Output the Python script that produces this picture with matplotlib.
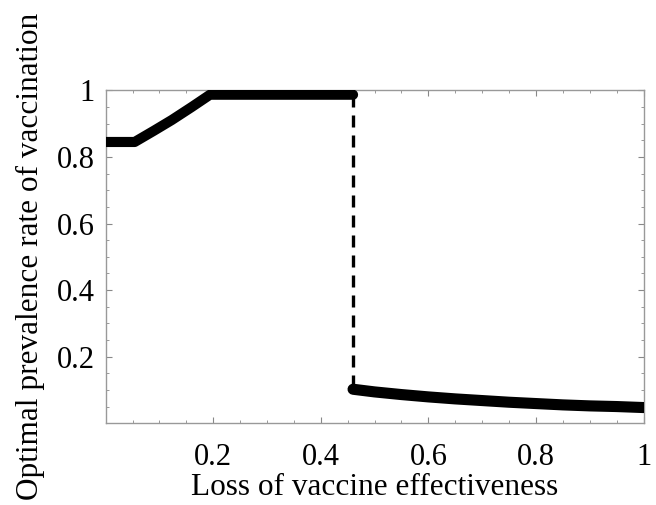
import numpy as np
import matplotlib
matplotlib.use("Agg")
import matplotlib.pyplot as plt
from matplotlib.ticker import MultipleLocator, FixedLocator

# upper branch (solid, before the jump)
x_upper = [0.0, 0.054, 0.09, 0.123, 0.16, 0.194, 0.46]
y_upper = [0.845, 0.845, 0.879, 0.911, 0.950, 0.987, 0.987]

# jump (dashed)
x_jump = [0.46, 0.46]
y_jump = [0.987, 0.102]

# lower branch (solid, after the jump)
x_lower = [0.46, 0.5, 0.55, 0.6, 0.65, 0.7, 0.75, 0.8, 0.85, 0.9, 0.95, 1.0]
y_lower = [0.102, 0.094, 0.086, 0.079, 0.073, 0.068, 0.063, 0.059, 0.055, 0.052, 0.050, 0.047]

major_ticks = [0.2, 0.4, 0.6, 0.8, 1.0]
tick_labels = ["0.2", "0.4", "0.6", "0.8", "1"]

plt.rcParams['font.family'] = ['Liberation Serif', 'DejaVu Serif']

fig = plt.figure(figsize=(6.56, 5.05), dpi=100)
ax = fig.add_axes([0.161, 0.162, 0.820, 0.659])

ax.plot(x_upper, y_upper, color='black', lw=7.3, solid_capstyle='round',
        solid_joinstyle='round', zorder=3)
ax.plot(x_jump, y_jump, color='black', lw=2.4, dashes=(3.6, 2.4), zorder=2)
ax.plot(x_lower, y_lower, color='black', lw=8.0, solid_capstyle='round',
        solid_joinstyle='round', zorder=3)

ax.set_xlim(0, 1)
ax.set_ylim(0, 1)

for ax_axis in (ax.xaxis, ax.yaxis):
    ax_axis.set_major_locator(FixedLocator(major_ticks))
    ax_axis.set_minor_locator(MultipleLocator(0.05))
ax.set_xticklabels(tick_labels)
ax.set_yticklabels(tick_labels)

ax.tick_params(which='both', direction='in', top=True, right=True,
               color='#888888', labelsize=22)
ax.tick_params(which='major', length=4, width=0.8)
ax.tick_params(which='minor', length=2, width=0.6)
ax.tick_params(axis='x', pad=14)
ax.tick_params(axis='y', pad=8)

for sp in ax.spines.values():
    sp.set_color('#999999')
    sp.set_linewidth(1.0)

ax.set_xlabel("Loss of vaccine effectiveness", fontsize=22.5, labelpad=1)
ax.set_ylabel("Optimal prevalence rate of vaccination", fontsize=22.5, labelpad=8)

fig.savefig("out.png", dpi=100)
